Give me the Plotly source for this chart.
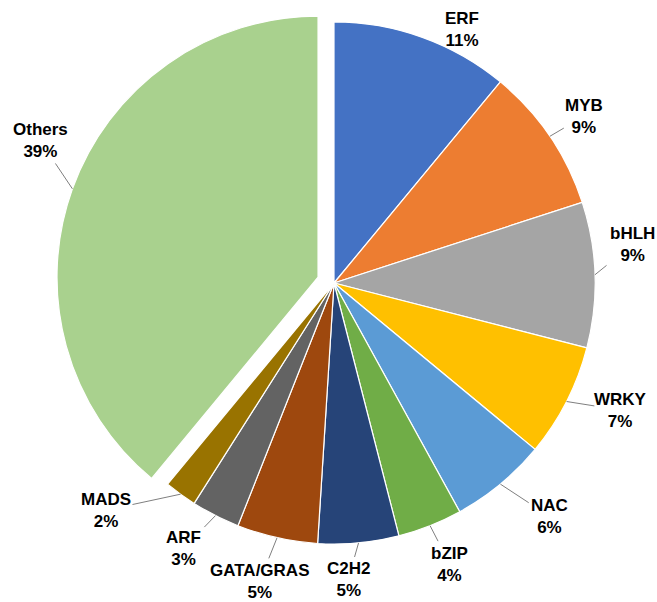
import math
import plotly.graph_objects as go

# Transcription factor families and their share of the total
families = ["ERF", "MYB", "bHLH", "WRKY", "NAC", "bZIP", "C2H2",
            "GATA/GRAS", "ARF", "MADS", "Others"]
shares = [11, 9, 9, 7, 6, 4, 5, 5, 3, 2, 39]

colors = ["#4472C4", "#ED7D31", "#A5A5A5", "#FFC000", "#5B9BD5", "#70AD47",
          "#264478", "#9E480E", "#636363", "#997300", "#A9D18E"]
pulls = [0] * 10 + [0.065]

# label placement: angular nudge from the slice middle (deg) and
# distance of the label centre from the pie centre (in radii)
label_turn = [7.0, 0.5, -5.5, -3.1, -3.1, -0.8, 2.7, 1.4, 2.5, 9.1, 6.4]
label_dist = [1.086, 1.152, 1.151, 1.202, 1.215, 1.165, 1.139, 1.178, 1.167, 1.233, 1.187]
show_leader = [False] + [True] * 10

W, H = 657, 602
dom_x = [56 / W, 612 / W]
dom_y = [41 / H, 597 / H]
FONT_SIZE = 17
LINE_H = 22

fig = go.Figure(go.Pie(
    labels=families,
    values=shares,
    sort=False,
    direction="clockwise",
    rotation=0,
    pull=pulls,
    textinfo="none",
    hoverinfo="label+percent",
    marker=dict(colors=colors, line=dict(color="white", width=1.2)),
    domain=dict(x=dom_x, y=dom_y),
    showlegend=False,
))

# pie geometry in pixels, as plotly lays it out
box_w = W * (dom_x[1] - dom_x[0])
box_h = H * (dom_y[1] - dom_y[0])
radius = min(box_w, box_h) / (2 + 2 * max(pulls))
cx = W * (dom_x[0] + dom_x[1]) / 2
cy = H * (1 - dom_y[0]) - box_h / 2


def to_paper(px, py):
    return px / W, 1 - py / H


def text_width(s):
    w = 0.0
    for ch in s:
        if ch.isupper():
            w += 0.72
        elif ch.islower():
            w += 0.6
        elif ch.isdigit():
            w += 0.556
        elif ch == "%":
            w += 0.889
        else:
            w += 0.3
    return w * FONT_SIZE


total = sum(shares)
annotations, shapes = [], []
cum = 0.0
for i, (name, val) in enumerate(zip(families, shares)):
    mid = (cum + val / 2) / total * 360
    cum += val
    a = math.radians(mid)
    # centre of this slice, moved out by its pull
    ox = cx + pulls[i] * radius * math.sin(a)
    oy = cy - pulls[i] * radius * math.cos(a)

    pct = f"{val / total * 100:.0f}%"
    la = math.radians(mid + label_turn[i])
    lx = ox + label_dist[i] * radius * math.sin(la)
    ly = oy - label_dist[i] * radius * math.cos(la)

    xp, yp = to_paper(lx, ly)
    annotations.append(dict(
        x=xp, y=yp, xref="paper", yref="paper", showarrow=False,
        xanchor="center", yanchor="middle",
        text=f"<b>{name}</b><br><b>{pct}</b>",
        font=dict(family="Liberation Sans, Arial, sans-serif",
                  size=FONT_SIZE, color="#000000"),
    ))

    if show_leader[i]:
        ex = ox + radius * math.sin(a)
        ey = oy - radius * math.cos(a)
        vx, vy = lx - ex, ly - ey
        hw = max(text_width(name), text_width(pct)) / 2 + 2
        hh = LINE_H + 1
        s = min(hw / abs(vx) if vx else 1e9, hh / abs(vy) if vy else 1e9)
        s = min(s, 1.0)
        tx, ty = lx - vx * s, ly - vy * s
        x0, y0 = to_paper(ex, ey)
        x1, y1 = to_paper(tx, ty)
        shapes.append(dict(type="line", xref="paper", yref="paper",
                           x0=x0, y0=y0, x1=x1, y1=y1,
                           line=dict(color="#7F7F7F", width=1)))

fig.update_layout(
    width=W, height=H,
    margin=dict(l=0, r=0, t=0, b=0),
    paper_bgcolor="white",
    plot_bgcolor="white",
    annotations=annotations,
    shapes=shapes,
)

fig.write_html("out.html")
